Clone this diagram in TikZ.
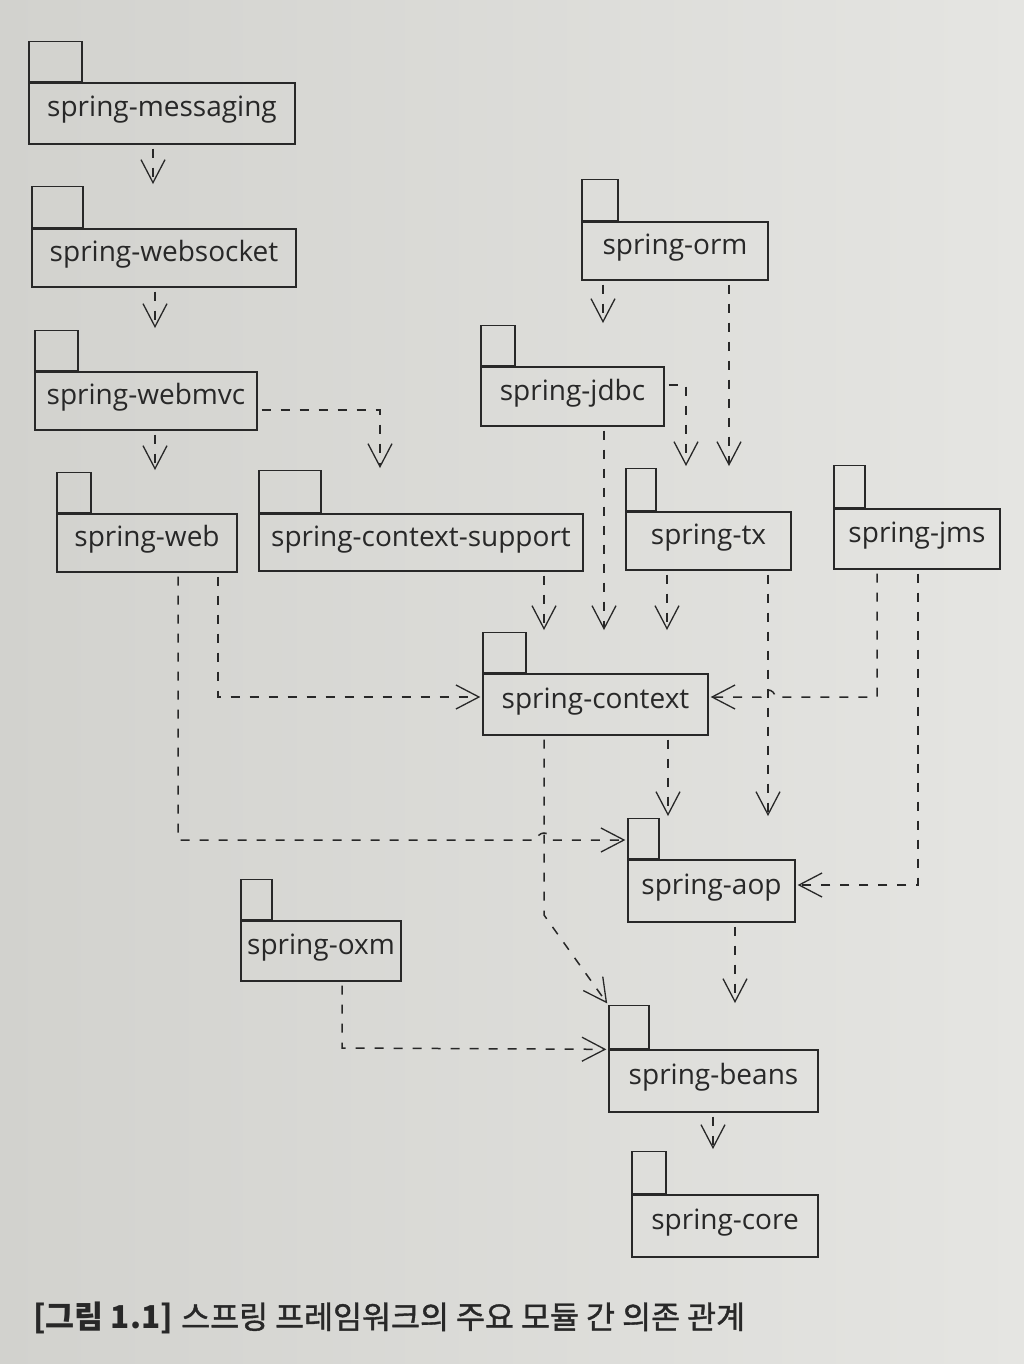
\documentclass[tikz,border=0pt]{standalone}
\usepackage{fontspec}
\setmainfont{Open Sans}
\newfontfamily\krfont{Noto Sans CJK KR}
\newfontfamily\krmed{Noto Sans CJK KR}[FakeBold=1.2]
\usetikzlibrary{arrows.meta,calc}
\definecolor{paperL}{RGB}{210,210,206}
\definecolor{paperR}{RGB}{229,229,226}
\definecolor{ink}{RGB}{40,40,40}
\begin{document}
\begin{tikzpicture}[x=1pt,y=-1pt,
  pkg/.style={draw=ink, line width=1.3pt, inner sep=0pt, text=ink,
    font=\fontsize{28}{31}\selectfont, text height=20pt, text depth=13pt},
  tabbox/.style={draw=ink, line width=1.3pt, inner sep=0pt, anchor=south west},
  dep/.style={draw=ink, line width=1.5pt, dash pattern=on 9pt off 10pt,
    shorten <=4pt, shorten >=2pt,
    -{Straight Barb[length=23pt,width=24pt,line width=1.3pt]}},
]
\useasboundingbox (0,0) rectangle (1024,1364);
\shade[left color=paperL, right color=paperR] (0,0) rectangle (1024,1364);

% packages
\node[pkg, minimum width=266pt, minimum height=61pt] (msg) at (162,113.5) {spring-messaging};
\node[tabbox, minimum width=53pt, minimum height=40pt] (msg-t) at (msg.north west) {};
\node[pkg, minimum width=264pt, minimum height=58pt] (wsk) at (164,258) {spring-websocket};
\node[tabbox, minimum width=51pt, minimum height=41pt] (wsk-t) at (wsk.north west) {};
\node[pkg, minimum width=222pt, minimum height=58pt] (mvc) at (146,401) {spring-webmvc};
\node[tabbox, minimum width=43pt, minimum height=40pt] (mvc-t) at (mvc.north west) {};
\node[pkg, minimum width=180pt, minimum height=58pt] (web) at (147,543) {spring-web};
\node[tabbox, minimum width=34pt, minimum height=40pt] (web-t) at (web.north west) {};
\node[pkg, minimum width=324pt, minimum height=57pt] (ctxs) at (421,542.5) {spring-context-support};
\node[tabbox, minimum width=62pt, minimum height=42pt] (ctxs-t) at (ctxs.north west) {};
\node[pkg, minimum width=186pt, minimum height=58pt] (orm) at (675,251) {spring-orm};
\node[tabbox, minimum width=36pt, minimum height=41pt] (orm-t) at (orm.north west) {};
\node[pkg, minimum width=183pt, minimum height=59pt] (jdbc) at (572.5,396.5) {spring-jdbc};
\node[tabbox, minimum width=34pt, minimum height=40pt] (jdbc-t) at (jdbc.north west) {};
\node[pkg, minimum width=165pt, minimum height=58pt] (tx) at (708.5,541) {spring-tx};
\node[tabbox, minimum width=30pt, minimum height=42pt] (tx-t) at (tx.north west) {};
\node[pkg, minimum width=166pt, minimum height=60pt] (jms) at (917,539) {spring-jms};
\node[tabbox, minimum width=31pt, minimum height=42pt] (jms-t) at (jms.north west) {};
\node[pkg, minimum width=225pt, minimum height=61pt] (ctx) at (595.5,704.5) {spring-context};
\node[tabbox, minimum width=43pt, minimum height=40pt] (ctx-t) at (ctx.north west) {};
\node[pkg, minimum width=167pt, minimum height=62pt] (aop) at (711.5,891) {spring-aop};
\node[tabbox, minimum width=31pt, minimum height=40pt] (aop-t) at (aop.north west) {};
\node[pkg, minimum width=160pt, minimum height=60pt] (oxm) at (321,951) {spring-oxm};
\node[tabbox, minimum width=31pt, minimum height=40pt] (oxm-t) at (oxm.north west) {};
\node[pkg, minimum width=209pt, minimum height=62pt] (beans) at (713.5,1081) {spring-beans};
\node[tabbox, minimum width=40pt, minimum height=43pt] (beans-t) at (beans.north west) {};
\node[pkg, minimum width=186pt, minimum height=62pt] (core) at (725,1226) {spring-core};
\node[tabbox, minimum width=34pt, minimum height=42pt] (core-t) at (core.north west) {};

% dependencies
\draw[dep] (msg.south -| 153,0) -- (153,0 |- wsk-t.north);
\draw[dep] (wsk.south -| 155,0) -- (155,0 |- mvc-t.north);
\draw[dep] (mvc.south -| 155,0) -- (155,0 |- web-t.north);
\draw[dep] (mvc.east |- 0,410) -- (380,410) -- (380,0 |- ctxs-t.north);
\draw[dep] (orm.south -| 603,0) -- (603,0 |- jdbc-t.north);
\draw[dep] (orm.south -| 729,0) -- (729,0 |- tx-t.north);
\draw[dep] (jdbc.east |- 0,385) -- (686,385) -- (686,0 |- tx-t.north);
\draw[dep] (jdbc.south -| 604,0) -- (604,0 |- ctx-t.north);
\draw[dep] (ctxs.south -| 544,0) -- (544,0 |- ctx-t.north);
\draw[dep] (tx.south -| 667,0) -- (667,0 |- ctx-t.north);
\draw[dep] (web.south -| 218,0) -- (218,697) -- (ctx.west |- 0,697);
\draw[dep] (jms.south -| 877,0) -- (877,697) -- (775,697)
   arc[start angle=0,end angle=180,radius=7pt] -- (ctx.east |- 0,697);
\draw[dep] (tx.south -| 768,0) -- (768,0 |- aop-t.north);
\draw[dep] (ctx.south -| 668,0) -- (668,0 |- aop-t.north);
\draw[dep] (web.south -| 178,0) -- (178,840) -- (537,840)
   arc[start angle=180,end angle=0,radius=7pt] -- (aop.west |- 0,840);
\draw[dep] (ctx.south -| 544,0) -- (544,915) -- (beans-t.north west);
\draw[dep] (jms.south -| 918,0) -- (918,885) -- (aop.east |- 0,885);
\draw[dep] (aop.south -| 735,0) -- (735,0 |- beans-t.north);
\draw[dep] (oxm.south -| 342,0) -- (342,1048) -- (beans.north west);
\draw[dep] (beans.south -| 713,0) -- (713,0 |- core-t.north);

% caption
\node[anchor=west, text=ink, inner sep=0pt] (cap) at (33,1318)
  {\fontsize{31.5}{34}\selectfont{\krfont\bfseries [그림 1.1]} {\krmed 스프링 프레임워크의 주요 모듈 간 의존 관계}};
\end{tikzpicture}
\end{document}
